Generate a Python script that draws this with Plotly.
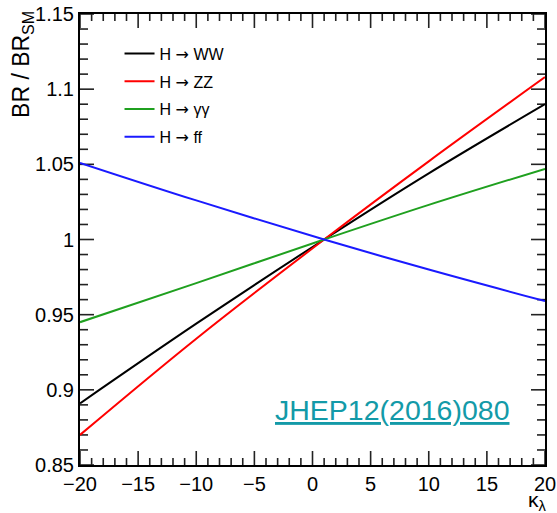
import numpy as np
import plotly.graph_objects as go

kappa = [-20, -10, 1, 10, 20]
br_ww = [0.891, 0.944, 1.0, 1.044, 1.090]
br_zz = [0.870, 0.934, 1.0, 1.052, 1.108]
br_gg = [0.945, 0.971, 1.0, 1.023, 1.047]
br_ff = [1.051, 1.026, 1.0, 0.980, 0.959]

x_range = [-20, 20]
y_range = [0.85, 1.15]

arrow = '<span style="font-family:DejaVu Sans">\u2192</span>'
names = ["H " + arrow + " WW", "H " + arrow + " ZZ",
         "H " + arrow + " \u03b3\u03b3", "H " + arrow + " ff"]
colors = ["#000000", "#ff0000", "#1fa01f", "#1a1aff"]
series = [br_ww, br_zz, br_gg, br_ff]

W, H = 557, 513
ML, MR, MT, MB = 80, 12, 14, 48
px_x = (x_range[1] - x_range[0]) / (W - ML - MR)   # x units per pixel
px_y = (y_range[1] - y_range[0]) / (H - MT - MB)   # y units per pixel

fig = go.Figure()

# ROOT-style inside ticks on all four sides
tx, ty = [], []
for v in np.arange(x_range[0], x_range[1] + 0.5, 1):
    L = (14 if round(v) % 5 == 0 else 7) * px_y
    tx += [float(v), float(v), None, float(v), float(v), None]
    ty += [y_range[0], y_range[0] + L, None, y_range[1], y_range[1] - L, None]
for k in range(0, 31):
    v = y_range[0] + k * 0.01
    L = (14 if k % 5 == 0 else 8) * px_x
    tx += [x_range[0], x_range[0] + L, None, x_range[1], x_range[1] - L, None]
    ty += [v, v, None, v, v, None]
fig.add_trace(go.Scatter(x=tx, y=ty, mode="lines", showlegend=False,
                         hoverinfo="skip", connectgaps=False,
                         line=dict(color="#222222", width=1.6)))

for i, (n, c, s) in enumerate(zip(names, colors, series)):
    fig.add_trace(go.Scatter(x=kappa, y=s, mode="lines", name=n,
                             legendgroup=f"g{i}",
                             line=dict(color=c, width=2, shape="spline")))

font = "Liberation Sans, Arial, sans-serif"
axis_common = dict(
    showgrid=False, zeroline=False, showline=True, linecolor="black", linewidth=2,
    mirror=True, ticks="", automargin=False,
    tickfont=dict(family=font, size=20, color="black"),
)
fig.update_xaxes(range=x_range, dtick=5, tick0=0, **axis_common)
fig.update_yaxes(range=y_range, dtick=0.05, tick0=0.85, **axis_common)

fig.update_layout(
    width=W, height=H,
    margin=dict(l=ML, r=MR, t=MT, b=MB),
    plot_bgcolor="white", paper_bgcolor="white",
    font=dict(family=font, color="black"),
    legend=dict(x=0.085, y=0.95, xanchor="left", yanchor="top",
                bgcolor="rgba(0,0,0,0)", font=dict(family=font, size=16),
                tracegroupgap=4),
    showlegend=True,
    annotations=[
        dict(text="BR / BR<sub>SM</sub>", xref="paper", yref="paper",
             x=-0.125, y=1.012, xanchor="center", yanchor="top", textangle=-90,
             showarrow=False, font=dict(family=font, size=23, color="black")),
        dict(text="\u03ba<sub>\u03bb</sub>", xref="paper", yref="paper",
             x=1.008, y=-0.114, xanchor="right", yanchor="bottom",
             showarrow=False, font=dict(family=font, size=21, color="black")),
        dict(text="<u>JHEP12(2016)080</u>", xref="paper", yref="paper",
             x=0.673, y=0.122, xanchor="center", yanchor="middle",
             showarrow=False, font=dict(family=font, size=28.5, color="#139aa8")),
    ],
)

fig.write_html("out.html")
